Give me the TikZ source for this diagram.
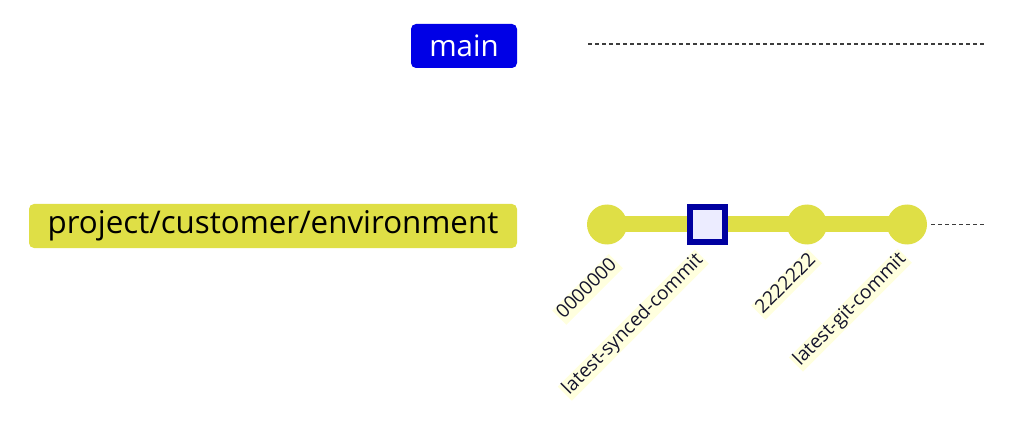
\documentclass[tikz,border=0pt]{standalone}
\usepackage{fontspec}
\setmainfont{Open Sans}
\definecolor{mainblue}{RGB}{0,0,230}
\definecolor{branchyellow}{RGB}{223,223,70}
\definecolor{sqborder}{RGB}{0,0,160}
\definecolor{sqfill}{RGB}{236,236,255}
\definecolor{labelbg}{RGB}{255,255,222}
\definecolor{labeltext}{RGB}{20,20,45}
\definecolor{dashgray}{RGB}{60,60,60}
\tikzset{
  branchlabel/.style={rounded corners=5pt, inner sep=0pt, align=center},
  commitdot/.style={circle, fill=branchyellow, minimum size=40pt, inner sep=0pt},
  commitsq/.style={rectangle, draw=sqborder, line width=6pt, fill=sqfill, minimum size=35pt, inner sep=0pt},
  commitlabel/.style={fill=labelbg, text=labeltext, rotate=45, anchor=east, inner xsep=2pt, inner ysep=1pt, text height=13.5pt, text depth=4.5pt, font=\fontsize{19}{21}\selectfont},
  futureline/.style={draw=dashgray, line width=1.5pt, dash pattern=on 4pt off 3pt}
}
\begin{document}
\begin{tikzpicture}[x=1pt,y=-1pt]
\useasboundingbox (0,0) rectangle (1024,430);
% branch labels
\node[branchlabel, fill=mainblue, text=white, minimum width=106pt, minimum height=44pt, font=\fontsize{29.5}{32}\selectfont] (mainlbl) at (464,46) {main};
\node[branchlabel, fill=branchyellow, text=black, minimum width=488pt, minimum height=44pt, font=\fontsize{31.3}{34}\selectfont] (envlbl) at (273,226) {project/customer/environment};
% main dashed line
\coordinate (mainstart) at (588,44);
\coordinate (mainend) at (985,44);
\draw[futureline] (mainstart) -- (mainend);
% commits
\coordinate (c0) at (607,224.5);
\coordinate (c1) at (707.5,224.5);
\coordinate (c2) at (807,224.5);
\coordinate (c3) at (907,224.5);
\coordinate (envend) at (985,224.5);
\draw[branchyellow, line width=16pt] (c0) -- (c3);
\coordinate (c3r) at (931,224.5);
\draw[futureline] (c3r) -- (envend);
\node[commitdot] (n0) at (c0) {};
\node[commitsq] (n1) at (c1) {};
\node[commitdot] (n2) at (c2) {};
\node[commitdot] (n3) at (c3) {};
% commit labels
\node[commitlabel] (l0) at ([xshift=9pt,yshift=-36.5pt]c0) {0000000};
\node[commitlabel] (l1) at ([xshift=-5.5pt,yshift=-32pt]c1) {latest-synced-commit};
\node[commitlabel] (l2) at ([xshift=8pt,yshift=-31.5pt]c2) {2222222};
\node[commitlabel] (l3) at ([xshift=-2pt,yshift=-31pt]c3) {latest-git-commit};
\end{tikzpicture}
\end{document}
